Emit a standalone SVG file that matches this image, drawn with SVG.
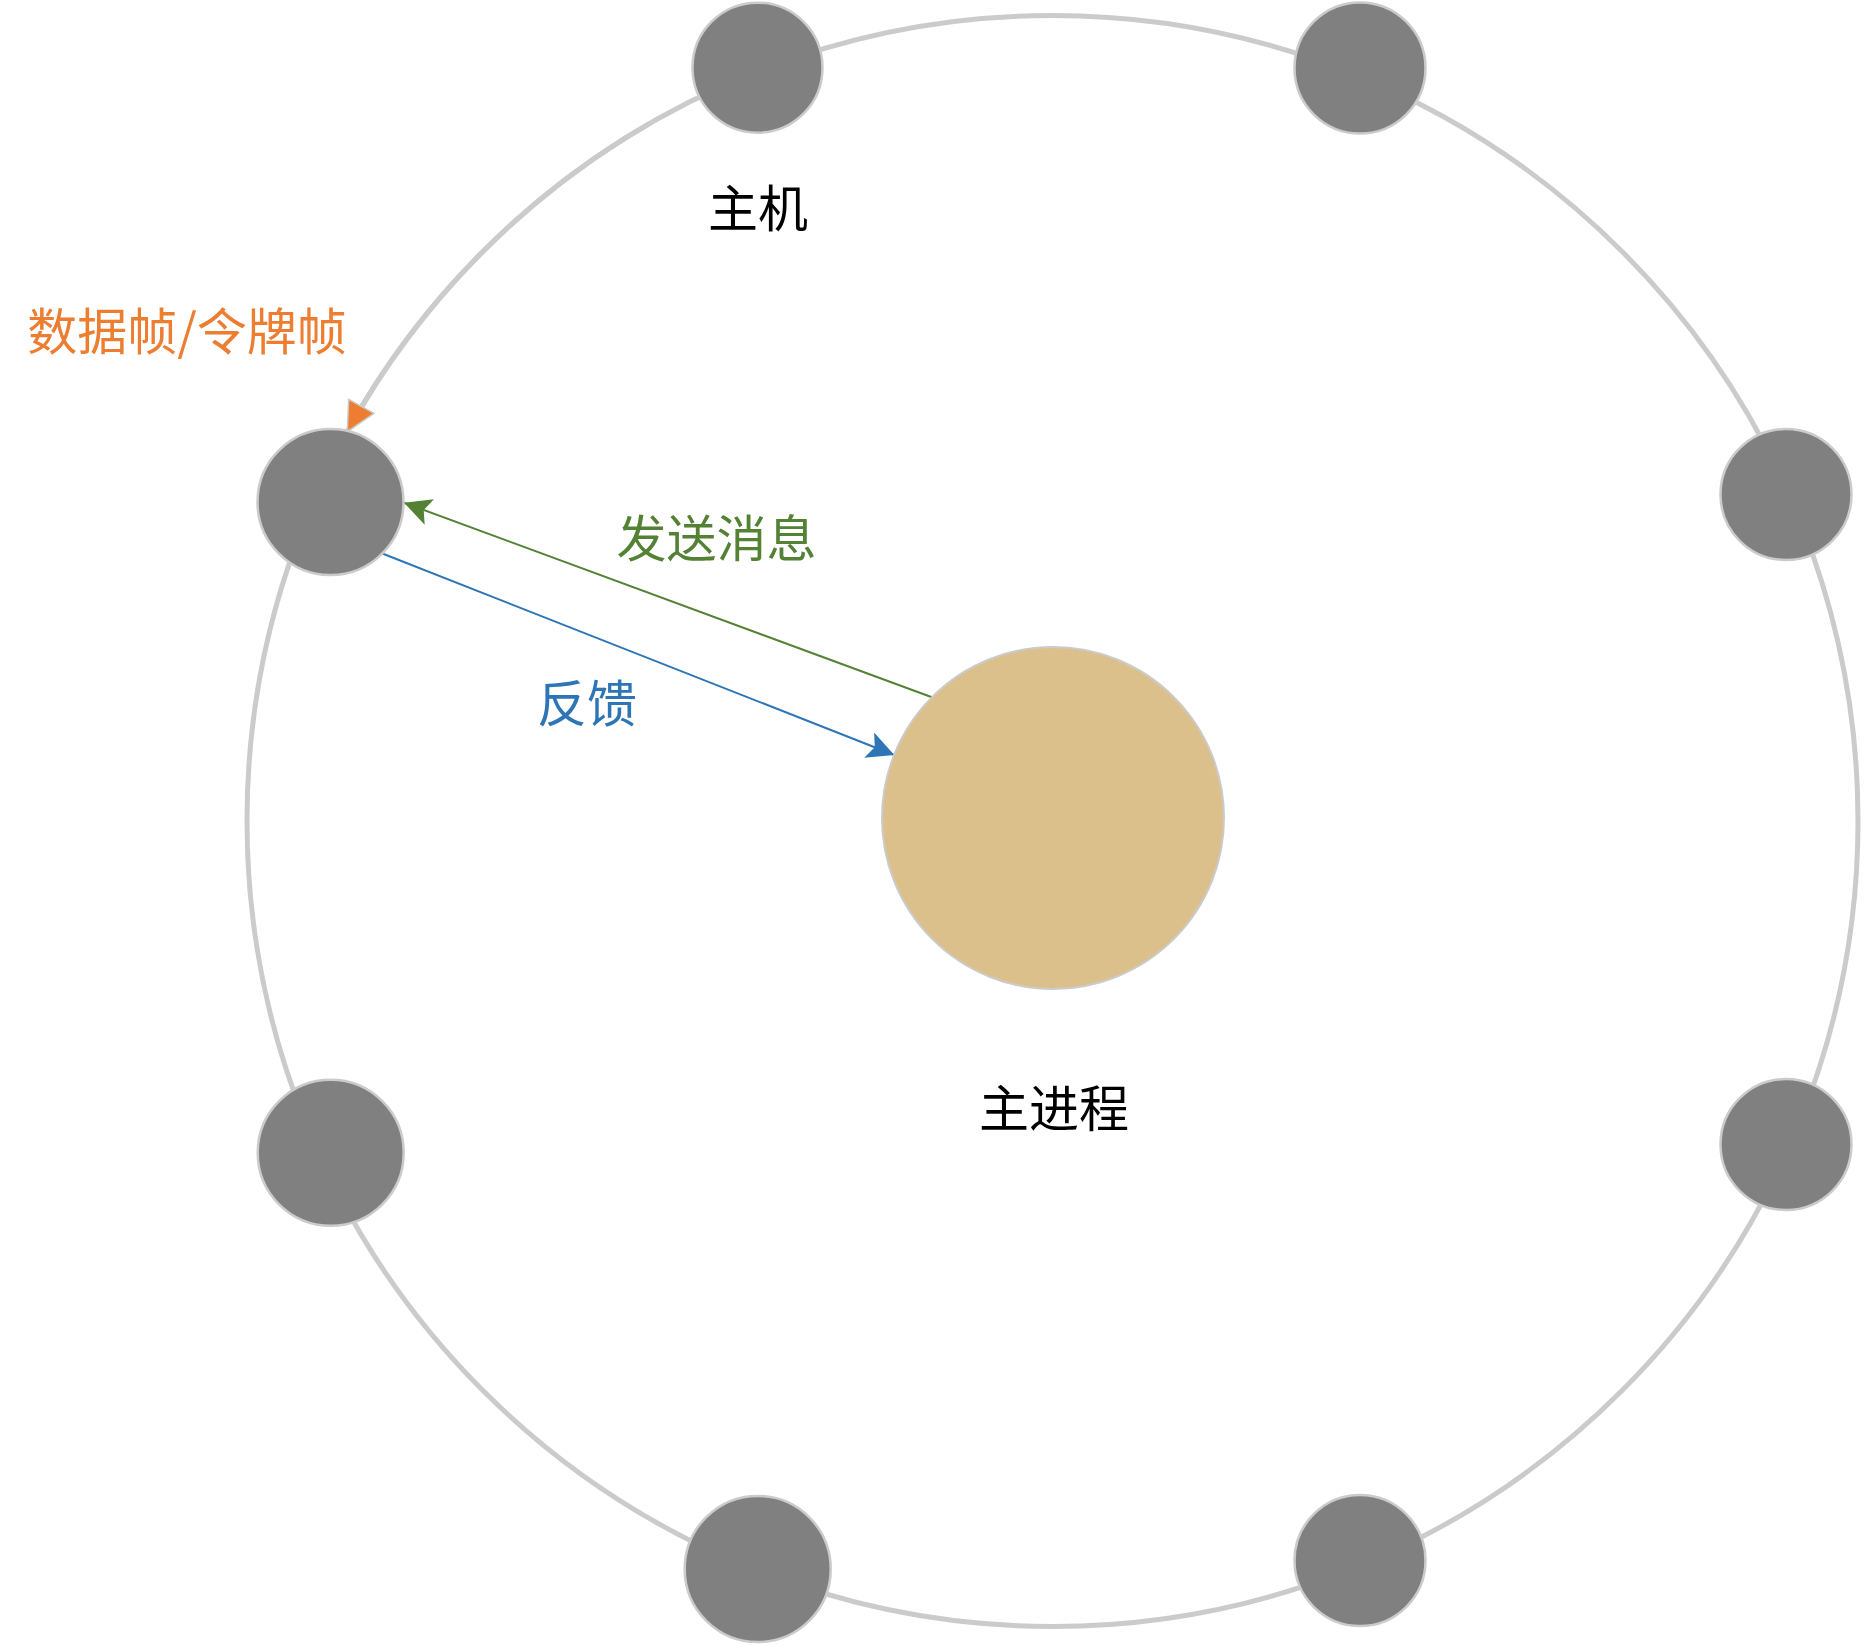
<svg xmlns="http://www.w3.org/2000/svg" width="1865" height="1645" viewBox="0 0 1865 1645">
  <style>
    .ring { fill: none; stroke: #CBCBCB; stroke-width: 5; }
    .host { fill: #808080; stroke: #CBCBCB; stroke-width: 2.5; }
    .proc { fill: #DBC08C; stroke: #CBCBCB; stroke-width: 2; }
    .lbl { font-family: "Noto Sans CJK SC", "Noto Sans", sans-serif; font-size: 50px; text-anchor: middle; }
    .send { fill: none; stroke: #548235; stroke-width: 2; }
    .back { fill: none; stroke: #2E75B6; stroke-width: 2; }
  </style>
  <defs>
    <marker id="arrOrange" markerUnits="userSpaceOnUse" viewBox="0 0 32 32" refX="30" refY="16" markerWidth="32" markerHeight="32" orient="auto">
      <path d="M1,1.5 L30,16 L1,30.5 Z" fill="#ED7D31" stroke="#CBCBCB" stroke-width="1.5"/>
    </marker>
    <marker id="arrGreen" markerUnits="userSpaceOnUse" viewBox="0 0 28 28" refX="27" refY="14" markerWidth="28" markerHeight="28" orient="auto">
      <path d="M0,0.5 L27,14 L0,27.5 L6,14 Z" fill="#548235"/>
    </marker>
    <marker id="arrBlue" markerUnits="userSpaceOnUse" viewBox="0 0 28 28" refX="27" refY="14" markerWidth="28" markerHeight="28" orient="auto">
      <path d="M0,0.5 L27,14 L0,27.5 L6,14 Z" fill="#2E75B6"/>
    </marker>
  </defs>
  <rect width="1865" height="1645" fill="#FFFFFF"/>
  <g id="connectors">
    <circle class="ring" cx="1052.5" cy="821" r="805.5"/>
    <path class="ring" d="M649.8,123.4 A805.5,805.5 0 0 0 347.3,431.7" marker-end="url(#arrOrange)"/>
    <line class="send" x1="933.3" y1="697.7" x2="404" y2="502.7" marker-end="url(#arrGreen)"/>
    <line class="back" x1="381.7" y1="553.3" x2="894.3" y2="755" marker-end="url(#arrBlue)"/>
  </g>
  <g id="host1"><circle class="host" cx="757.5" cy="67.7" r="65"/></g>
  <g id="host2"><circle class="host" cx="1360" cy="68" r="65.5"/></g>
  <g id="host3"><circle class="host" cx="1786" cy="494.5" r="65.5"/></g>
  <g id="host4"><circle class="host" cx="1786" cy="1144.5" r="65.5"/></g>
  <g id="host5"><circle class="host" cx="1360" cy="1560.5" r="65.5"/></g>
  <g id="host6"><circle class="host" cx="757.7" cy="1569" r="73"/></g>
  <g id="host7"><circle class="host" cx="330.7" cy="1152.7" r="73"/></g>
  <g id="host8"><circle class="host" cx="330.5" cy="502" r="73"/></g>
  <g id="mainProcess"><circle class="proc" cx="1053" cy="818" r="171"/></g>
  <g id="labels">
    <text class="lbl" x="758" y="227" fill="#000000">主机</text>
    <text class="lbl" x="187" y="350" fill="#ED7D31">数据帧/令牌帧</text>
    <text class="lbl" x="716.5" y="557" fill="#548235">发送消息</text>
    <text class="lbl" x="587" y="722" fill="#2E75B6">反馈</text>
    <text class="lbl" x="1054" y="1127" fill="#000000">主进程</text>
  </g>
</svg>
